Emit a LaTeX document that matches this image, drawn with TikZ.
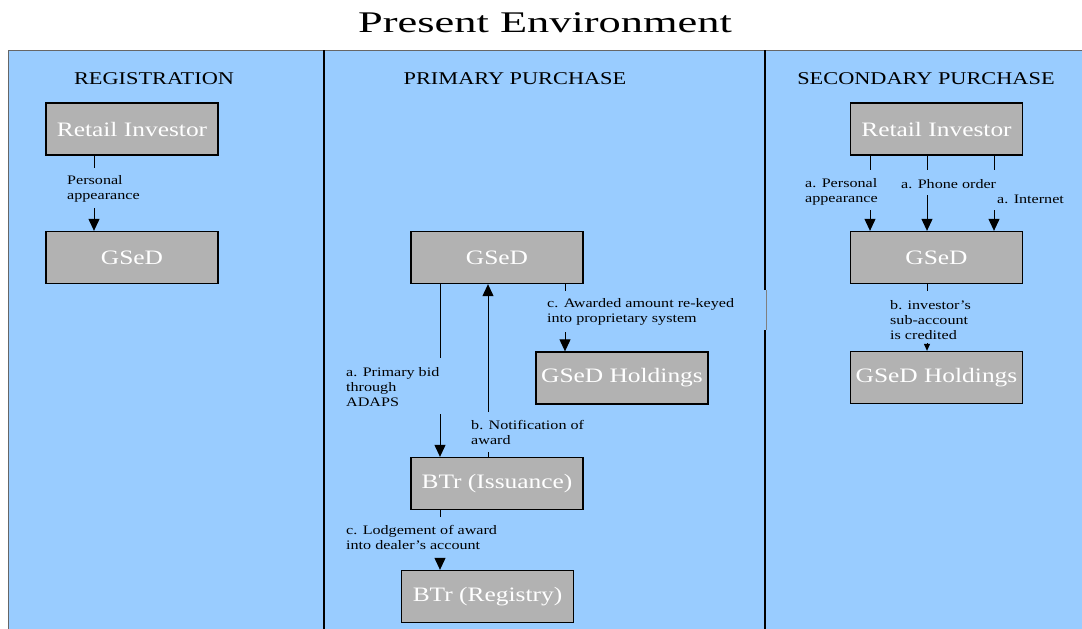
\documentclass[tikz,border=0pt]{standalone}
\usepackage{fontspec}
\setmainfont{Liberation Serif}
\newfontfamily\wideserif[FakeStretch=1.24]{Liberation Serif}
\newfontfamily\titleserif[FakeStretch=1.48]{Liberation Serif}
\usetikzlibrary{arrows.meta}
\definecolor{panelblue}{RGB}{153,204,255}
\definecolor{boxgray}{RGB}{178,178,178}

\begin{document}
\begin{tikzpicture}
		[x=1pt,y=-1pt,
		box/.style={draw=black,line width=1.3pt,fill=boxgray,minimum width=172pt,minimum height=52pt,inner sep=0pt,text=white,font=\wideserif\fontsize{20.5}{22}\selectfont},
		head/.style={inner sep=0pt,font=\wideserif\fontsize{18}{20}\selectfont},
		lbl/.style={inner sep=0pt,anchor=west,align=left,font=\wideserif\fontsize{13}{15}\selectfont},
		conn/.style={draw=black,line width=1pt},
		arr/.style={conn,-{Triangle[width=11pt,length=12pt]}}]

		\useasboundingbox (0,0) rectangle (1082,629);

		% panels
		\fill[panelblue] (8,50) rectangle (1082,629);
		\draw[black!60,line width=1pt] (8,629) -- (8,50) -- (1082,50);
		\draw[line width=2pt] (324,50) -- (324,629);
		\draw[line width=2pt] (765,50) -- (765,290) (765,330) -- (765,629);
		\draw[black!50,line width=0.8pt] (766,290) -- (766,330);

		\node[inner sep=0pt,font=\titleserif\fontsize{30}{32}\selectfont] (title) at (545,23) {Present Environment};

		\node[head] (hreg) at (154,79) {REGISTRATION};
		\node[head] (hpri) at (515,79) {PRIMARY PURCHASE};
		\node[head] (hsec) at (926,79) {SECONDARY PURCHASE};

		% registration
		\node[box] (ri1) at (132,129) {Retail Investor};
		\node[box] (gs1) at (132,257.5) {GSeD};

		\node[lbl] (lb1) at (67,188.5) {Personal\\appearance};
		\coordinate (p1) at (94,168);
		\coordinate (q1) at (94,208);
		\draw[conn] (p1 |- ri1.south) -- (p1);
		\draw[arr] (q1) -- (q1 |- gs1.north);

		% primary purchase
		\node[box] (gs2) at (497,257.5) {GSeD};
		\node[box] (hd2) at (622,378) {GSeD Holdings};
		\node[box] (bti) at (497,483.5) {BTr (Issuance)};
		\node[box] (btr) at (487.5,596.5) {BTr (Registry)};

		\node[lbl] (lb2) at (547,311.5) {c. Awarded amount re-keyed\\into proprietary system};
		\node[lbl] (lb3) at (346,387) {a. Primary bid\\through\\ADAPS};
		\node[lbl] (lb4) at (471,432.5) {b. Notification of\\award};
		\node[lbl] (lb5) at (346,537.5) {c. Lodgement of award\\into dealer’s account};

		\coordinate (p2) at (565,291);
		\coordinate (q2) at (565,332);
		\draw[conn] (p2 |- gs2.south) -- (p2);
		\draw[arr] (q2) -- (q2 |- hd2.north);

		\coordinate (p3) at (440,358);
		\coordinate (q3) at (440,414);
		\draw[conn] (p3 |- gs2.south) -- (p3);
		\draw[arr] (q3) -- (q3 |- bti.north);

		\coordinate (p4) at (488,452);
		\coordinate (q4) at (488,412);
		\draw[conn] (p4 |- bti.north) -- (p4);
		\draw[arr] (q4) -- (q4 |- gs2.south);

		\coordinate (p5) at (440,517);
		\coordinate (q5) at (440,558);
		\draw[conn] (p5 |- bti.south) -- (p5);
		\draw[arr] (q5) -- (q5 |- btr.north);

		% secondary purchase
		\node[box] (ri3) at (936.5,129) {Retail Investor};
		\node[box] (gs3) at (936.5,257.5) {GSeD};
		\node[box] (hd3) at (936.5,377.5) {GSeD Holdings};

		\node[lbl] (lb6) at (805,191.5) {a. Personal\\appearance};
		\node[lbl] (lb7) at (901,184) {a. Phone order};
		\node[lbl] (lb8) at (997,199) {a. Internet};
		\node[lbl] (lb9) at (890,320) {b. investor’s\\sub-account\\is credited};

		\coordinate (p6) at (870,170);
		\coordinate (q6) at (870,210);
		\draw[conn] (p6 |- ri3.south) -- (p6);
		\draw[arr] (q6) -- (q6 |- gs3.north);

		\coordinate (p7) at (927,170);
		\coordinate (q7) at (927,195);
		\draw[conn] (p7 |- ri3.south) -- (p7);
		\draw[arr] (q7) -- (q7 |- gs3.north);

		\coordinate (p8) at (994,170);
		\coordinate (q8) at (994,210);
		\draw[conn] (p8 |- ri3.south) -- (p8);
		\draw[arr] (q8) -- (q8 |- gs3.north);

		\coordinate (p9) at (927,291);
		\coordinate (q9) at (927,343);
		\draw[conn] (p9 |- gs3.south) -- (p9);
		\draw[conn,-{Triangle[width=6pt,length=7pt]}] (q9) -- (q9 |- hd3.north);

	\end{tikzpicture}
\end{document}
